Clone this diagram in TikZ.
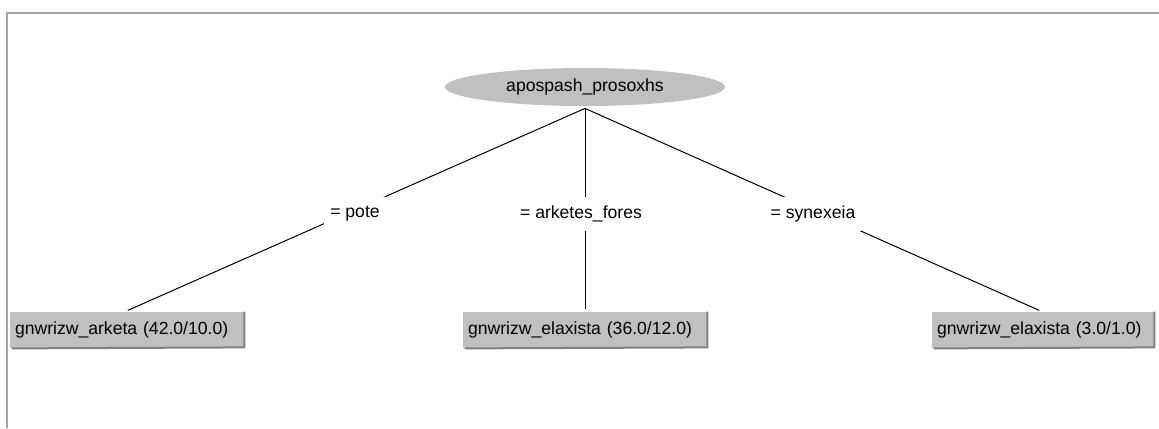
\documentclass[tikz,border=0pt]{standalone}
\usepackage{fontspec}
\setmainfont{Liberation Sans}
\usetikzlibrary{shapes.geometric}
\definecolor{nodegray}{RGB}{192,192,192}
\definecolor{shadegray}{RGB}{128,128,128}
\definecolor{framegray}{RGB}{165,165,165}
\tikzset{
  root/.style={ellipse, fill=nodegray, draw=none, inner sep=0pt,
    minimum width=140pt, minimum height=19pt},
  leaf/.style={rectangle, fill=nodegray, draw=none, inner xsep=2.5pt,
    inner ysep=0pt, minimum height=18pt, align=left},
  edgelabel/.style={rectangle, fill=white, inner xsep=3pt, inner ysep=0pt,
    minimum height=17pt},
  branch/.style={draw=black, line width=0.5pt, shorten >=1.5pt},
  shade/.style={draw=shadegray, line width=1pt},
  frame/.style={draw=framegray, line width=1pt}
}
\newcommand{\shadeleaf}[1]{%
  \draw[shade] ([xshift=1pt]#1.south west) -- ([xshift=-0.5pt,yshift=0.5pt]#1.south east)
    -- ([xshift=-0.5pt]#1.north east);}
\begin{document}
\begin{tikzpicture}[x=0.5pt, y=-0.5pt, font=\fontsize{8.8}{10.5}\selectfont]
\useasboundingbox (0,0) rectangle (1159,428);
% window frame
\draw[frame] (7,428) -- (7,13) -- (1159,13);

% tree nodes
\node[root] (top) at (585,87) {apospash\_prosoxhs};
\coordinate (fork) at ([yshift=-1pt]top.south);
\node[leaf, text width=112.5pt] (l1) at (127.5,330) {gnwrizw\_arketa (42.0/10.0)};
\node[leaf, text width=117.5pt] (l2) at (585.5,330) {gnwrizw\_elaxista (36.0/12.0)};
\node[leaf, text width=106.5pt] (l3) at (1043.5,330) {gnwrizw\_elaxista (3.0/1.0)};
\shadeleaf{l1}
\shadeleaf{l2}
\shadeleaf{l3}

% branches
\draw[branch] (fork) -- ([xshift=-1.25pt]l1.north);
\draw[branch] (fork) -- ([xshift=-0.25pt]l2.north);
\draw[branch] (fork) -- ([xshift=-0.75pt]l3.north);

% branch labels
\node[edgelabel] (e1) at (355,214) {= pote};
\node[edgelabel] (e2) at (581,214) {= arketes\_fores};
\node[edgelabel] (e3) at (813,214) {= synexeia};
\end{tikzpicture}
\end{document}
